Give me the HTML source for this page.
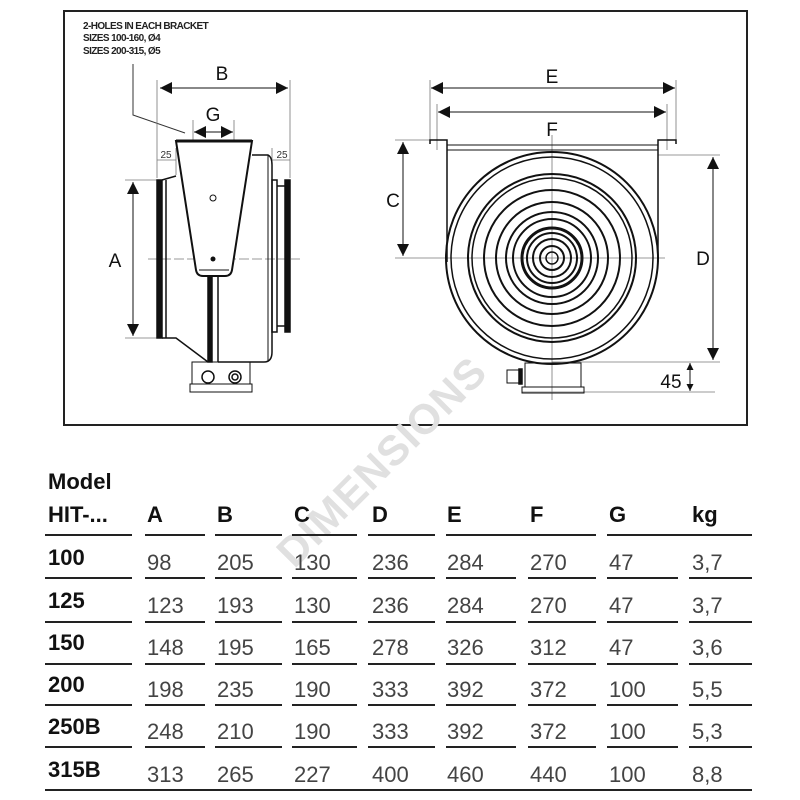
<!DOCTYPE html>
<html><head><meta charset="utf-8"><style>
html,body{margin:0;padding:0;background:#fff}
svg{display:block}
</style></head><body>
<svg width="800" height="800" viewBox="0 0 800 800" xmlns="http://www.w3.org/2000/svg" font-family="Liberation Sans, Arial, sans-serif">
<defs>
<marker id="ab" viewBox="0 0 10 10" refX="10" refY="5" markerWidth="14" markerHeight="12" orient="auto-start-reverse" markerUnits="userSpaceOnUse"><path d="M0,0 L10,5 L0,10 z" fill="#111"/></marker>
<marker id="as" viewBox="0 0 10 10" refX="10" refY="5" markerWidth="8" markerHeight="7" orient="auto-start-reverse" markerUnits="userSpaceOnUse"><path d="M0,0 L10,5 L0,10 z" fill="#111"/></marker>
</defs>
<rect x="64" y="11" width="683" height="414" fill="none" stroke="#222" stroke-width="2"/>

<!-- watermark -->
<text x="382" y="476" font-size="42" font-weight="bold" fill="#e0e0e0" text-anchor="middle" transform="rotate(-45 382 462)" letter-spacing="1">DIMENSIONS</text>

<!-- LEFT VIEW -->
<g font-weight="bold" font-size="10" fill="#222" letter-spacing="-0.6">
<text x="83" y="29">2-HOLES IN EACH BRACKET</text>
<text x="83" y="41">SIZES 100-160, Ø4</text>
<text x="83" y="54">SIZES 200-315, Ø5</text>
</g>
<polyline points="133,64 133,115 185,133" fill="none" stroke="#333" stroke-width="1"/>
<g stroke="#777" stroke-width="0.8" fill="none">
<line x1="157" y1="80" x2="157" y2="178"/><line x1="290" y1="80" x2="290" y2="178"/>
<line x1="193" y1="120" x2="193" y2="148"/><line x1="234" y1="120" x2="234" y2="148"/>
<line x1="176" y1="148" x2="176" y2="175"/><line x1="272" y1="148" x2="272" y2="175"/>
<line x1="157" y1="160" x2="176" y2="160"/><line x1="272" y1="160" x2="290" y2="160"/>
<line x1="125" y1="180" x2="158" y2="180"/><line x1="125" y1="338" x2="158" y2="338"/>
<line x1="148" y1="259" x2="300" y2="259" stroke-dasharray="10 3"/>
</g>
<line x1="160" y1="88" x2="288" y2="88" stroke="#111" stroke-width="1" marker-start="url(#ab)" marker-end="url(#ab)"/>
<text x="222" y="80" font-size="19" text-anchor="middle" fill="#111">B</text>
<line x1="194" y1="132" x2="233" y2="132" stroke="#111" stroke-width="1" marker-start="url(#ab)" marker-end="url(#ab)"/>
<text x="213" y="121" font-size="19" text-anchor="middle" fill="#111">G</text>
<text x="166" y="158" font-size="10" text-anchor="middle" fill="#333">25</text>
<text x="282" y="158" font-size="10" text-anchor="middle" fill="#333">25</text>
<line x1="133" y1="182" x2="133" y2="336" stroke="#111" stroke-width="1" marker-start="url(#ab)" marker-end="url(#ab)"/>
<text x="115" y="267" font-size="19" text-anchor="middle" fill="#111">A</text>
<g stroke="#111" fill="none" stroke-width="1.5">
<rect x="157" y="180" width="5" height="158" fill="#111"/>
<line x1="166" y1="180" x2="166" y2="338"/>
<path d="M162,180 L176,176"/>
<path d="M162,338 L176,338 L208,362"/>
<path d="M252,155 L268,155 Q272,157 272,165 L272,352 Q272,362 264,362 L218,362"/>
<line x1="268" y1="155" x2="268" y2="362" stroke-width="1"/>
<rect x="272" y="180" width="5" height="152"/>
<rect x="285" y="180" width="5" height="152" fill="#111"/>
<line x1="277" y1="186" x2="285" y2="186"/><line x1="277" y1="326" x2="285" y2="326"/>
<path d="M176,141 L252,141 L232,270 Q231,276 225,276 L203,276 Q197,276 196,270 Z" fill="#fff" stroke-width="2"/>
<line x1="176" y1="141" x2="252" y2="141" stroke-width="3"/>
<line x1="199" y1="270" x2="229" y2="270" stroke-width="1"/>
<rect x="208" y="276" width="4" height="86" fill="#111"/>
<line x1="218" y1="276" x2="218" y2="362"/>
<circle cx="213" cy="198" r="3" stroke-width="1"/>
<rect x="192" y="362" width="58" height="22" stroke-width="1"/>
<rect x="190" y="384" width="62" height="8" stroke-width="1"/>
<circle cx="208" cy="377" r="6"/>
<circle cx="235" cy="377" r="6"/><circle cx="235" cy="377" r="3"/>
</g>
<circle cx="213" cy="259" r="2.5" fill="#111"/>

<!-- RIGHT VIEW -->
<g stroke="#777" stroke-width="0.8" fill="none">
<line x1="430" y1="80" x2="430" y2="140"/><line x1="676" y1="80" x2="676" y2="140"/>
<line x1="437" y1="104" x2="437" y2="150"/><line x1="667" y1="104" x2="667" y2="150"/>
<line x1="395" y1="140" x2="430" y2="140"/>
<line x1="395" y1="258" x2="665" y2="258"/>
<line x1="552" y1="135" x2="552" y2="400"/>
<line x1="658" y1="155" x2="720" y2="155"/>
<line x1="552" y1="362" x2="720" y2="362"/>
<line x1="522" y1="392" x2="715" y2="392"/>
</g>
<line x1="431" y1="88" x2="675" y2="88" stroke="#111" stroke-width="1" marker-start="url(#ab)" marker-end="url(#ab)"/>
<text x="552" y="83" font-size="19" text-anchor="middle" fill="#111">E</text>
<line x1="438" y1="112" x2="666" y2="112" stroke="#111" stroke-width="1" marker-start="url(#ab)" marker-end="url(#ab)"/>
<text x="552" y="136" font-size="19" text-anchor="middle" fill="#111">F</text>
<line x1="403" y1="142" x2="403" y2="256" stroke="#111" stroke-width="1" marker-start="url(#ab)" marker-end="url(#ab)"/>
<text x="393" y="207" font-size="19" text-anchor="middle" fill="#111">C</text>
<line x1="713" y1="157" x2="713" y2="360" stroke="#111" stroke-width="1" marker-start="url(#ab)" marker-end="url(#ab)"/>
<text x="703" y="265" font-size="19" text-anchor="middle" fill="#111">D</text>
<line x1="690" y1="363" x2="690" y2="391" stroke="#111" stroke-width="1" marker-start="url(#as)" marker-end="url(#as)"/>
<text x="671" y="388" font-size="19" text-anchor="middle" fill="#111">45</text>
<g stroke="#111" fill="none" stroke-width="1.5">
<path d="M430,144 L430,140 L447,140 L447,262"/>
<path d="M676,144 L676,140 L658,140 L658,262"/>
<line x1="447" y1="145" x2="658" y2="145" stroke-width="1"/>
<line x1="447" y1="150" x2="658" y2="150" stroke-width="1"/>
<circle cx="552" cy="258" r="106" stroke-width="2"/>
<circle cx="552" cy="258" r="101"/>
<circle cx="552" cy="258" r="84" stroke-width="2"/>
<circle cx="552" cy="258" r="80"/>
<circle cx="552" cy="258" r="68" stroke-width="2"/>
<circle cx="552" cy="258" r="56" stroke-width="2"/>
<circle cx="552" cy="258" r="46" stroke-width="2"/>
<circle cx="552" cy="258" r="39" stroke-width="2"/>
<circle cx="552" cy="258" r="30" stroke-width="3"/>
<circle cx="552" cy="258" r="25" stroke-width="2"/>
<circle cx="552" cy="258" r="19" stroke-width="2"/>
<circle cx="552" cy="258" r="12" stroke-width="2"/>
<circle cx="552" cy="258" r="6" stroke-width="1.5"/>
<rect x="525" y="363" width="56" height="24" stroke-width="1"/>
<rect x="522" y="387" width="62" height="6" stroke-width="1"/>
<rect x="507" y="370" width="12" height="13" stroke-width="1"/>
<rect x="519" y="369" width="3" height="15" fill="#111"/>
</g>

<!-- TABLE -->
<g font-size="22" fill="#111" font-weight="bold">
<text x="48" y="489">Model</text>
<text x="48" y="522">HIT-...</text>
<text x="147" y="522">A</text><text x="217" y="522">B</text><text x="294" y="522">C</text>
<text x="372" y="522">D</text><text x="447" y="522">E</text><text x="530" y="522">F</text>
<text x="609" y="522">G</text><text x="692" y="522">kg</text>
<text x="48" y="565">100</text><text x="48" y="608">125</text><text x="48" y="650">150</text>
<text x="48" y="692">200</text><text x="48" y="734">250B</text><text x="48" y="777">315B</text>
</g>
<g font-size="22" fill="#444">
<text y="570"><tspan x="147">98</tspan><tspan x="217">205</tspan><tspan x="294">130</tspan><tspan x="372">236</tspan><tspan x="447">284</tspan><tspan x="530">270</tspan><tspan x="609">47</tspan><tspan x="692">3,7</tspan></text>
<text y="613"><tspan x="147">123</tspan><tspan x="217">193</tspan><tspan x="294">130</tspan><tspan x="372">236</tspan><tspan x="447">284</tspan><tspan x="530">270</tspan><tspan x="609">47</tspan><tspan x="692">3,7</tspan></text>
<text y="655"><tspan x="147">148</tspan><tspan x="217">195</tspan><tspan x="294">165</tspan><tspan x="372">278</tspan><tspan x="447">326</tspan><tspan x="530">312</tspan><tspan x="609">47</tspan><tspan x="692">3,6</tspan></text>
<text y="697"><tspan x="147">198</tspan><tspan x="217">235</tspan><tspan x="294">190</tspan><tspan x="372">333</tspan><tspan x="447">392</tspan><tspan x="530">372</tspan><tspan x="609">100</tspan><tspan x="692">5,5</tspan></text>
<text y="739"><tspan x="147">248</tspan><tspan x="217">210</tspan><tspan x="294">190</tspan><tspan x="372">333</tspan><tspan x="447">392</tspan><tspan x="530">372</tspan><tspan x="609">100</tspan><tspan x="692">5,3</tspan></text>
<text y="782"><tspan x="147">313</tspan><tspan x="217">265</tspan><tspan x="294">227</tspan><tspan x="372">400</tspan><tspan x="447">460</tspan><tspan x="530">440</tspan><tspan x="609">100</tspan><tspan x="692">8,8</tspan></text>
</g>
<g stroke="#222" stroke-width="2">
<path d="M45,535 H132 M145,535 H205 M215,535 H282 M292,535 H357 M368,535 H435 M446,535 H596 M607,535 H752"/>
<path d="M45,578 H132 M145,578 H205 M215,578 H282 M292,578 H357 M368,578 H435 M446,578 H516 M528,578 H596 M607,578 H678 M689,578 H752"/>
<path d="M45,622 H132 M145,622 H205 M215,622 H282 M292,622 H357 M368,622 H435 M446,622 H516 M528,622 H596 M607,622 H678 M689,622 H752"/>
<path d="M45,664 H132 M145,664 H205 M215,664 H282 M292,664 H357 M368,664 H435 M446,664 H516 M528,664 H596 M607,664 H678 M689,664 H752"/>
<path d="M45,705 H132 M145,705 H205 M215,705 H282 M292,705 H357 M368,705 H435 M446,705 H516 M528,705 H596 M607,705 H678 M689,705 H752"/>
<path d="M45,747 H132 M145,747 H205 M215,747 H282 M292,747 H357 M368,747 H435 M446,747 H516 M528,747 H596 M607,747 H678 M689,747 H752"/>
<path d="M45,790 H752"/>
</g>
</svg>
</body></html>
